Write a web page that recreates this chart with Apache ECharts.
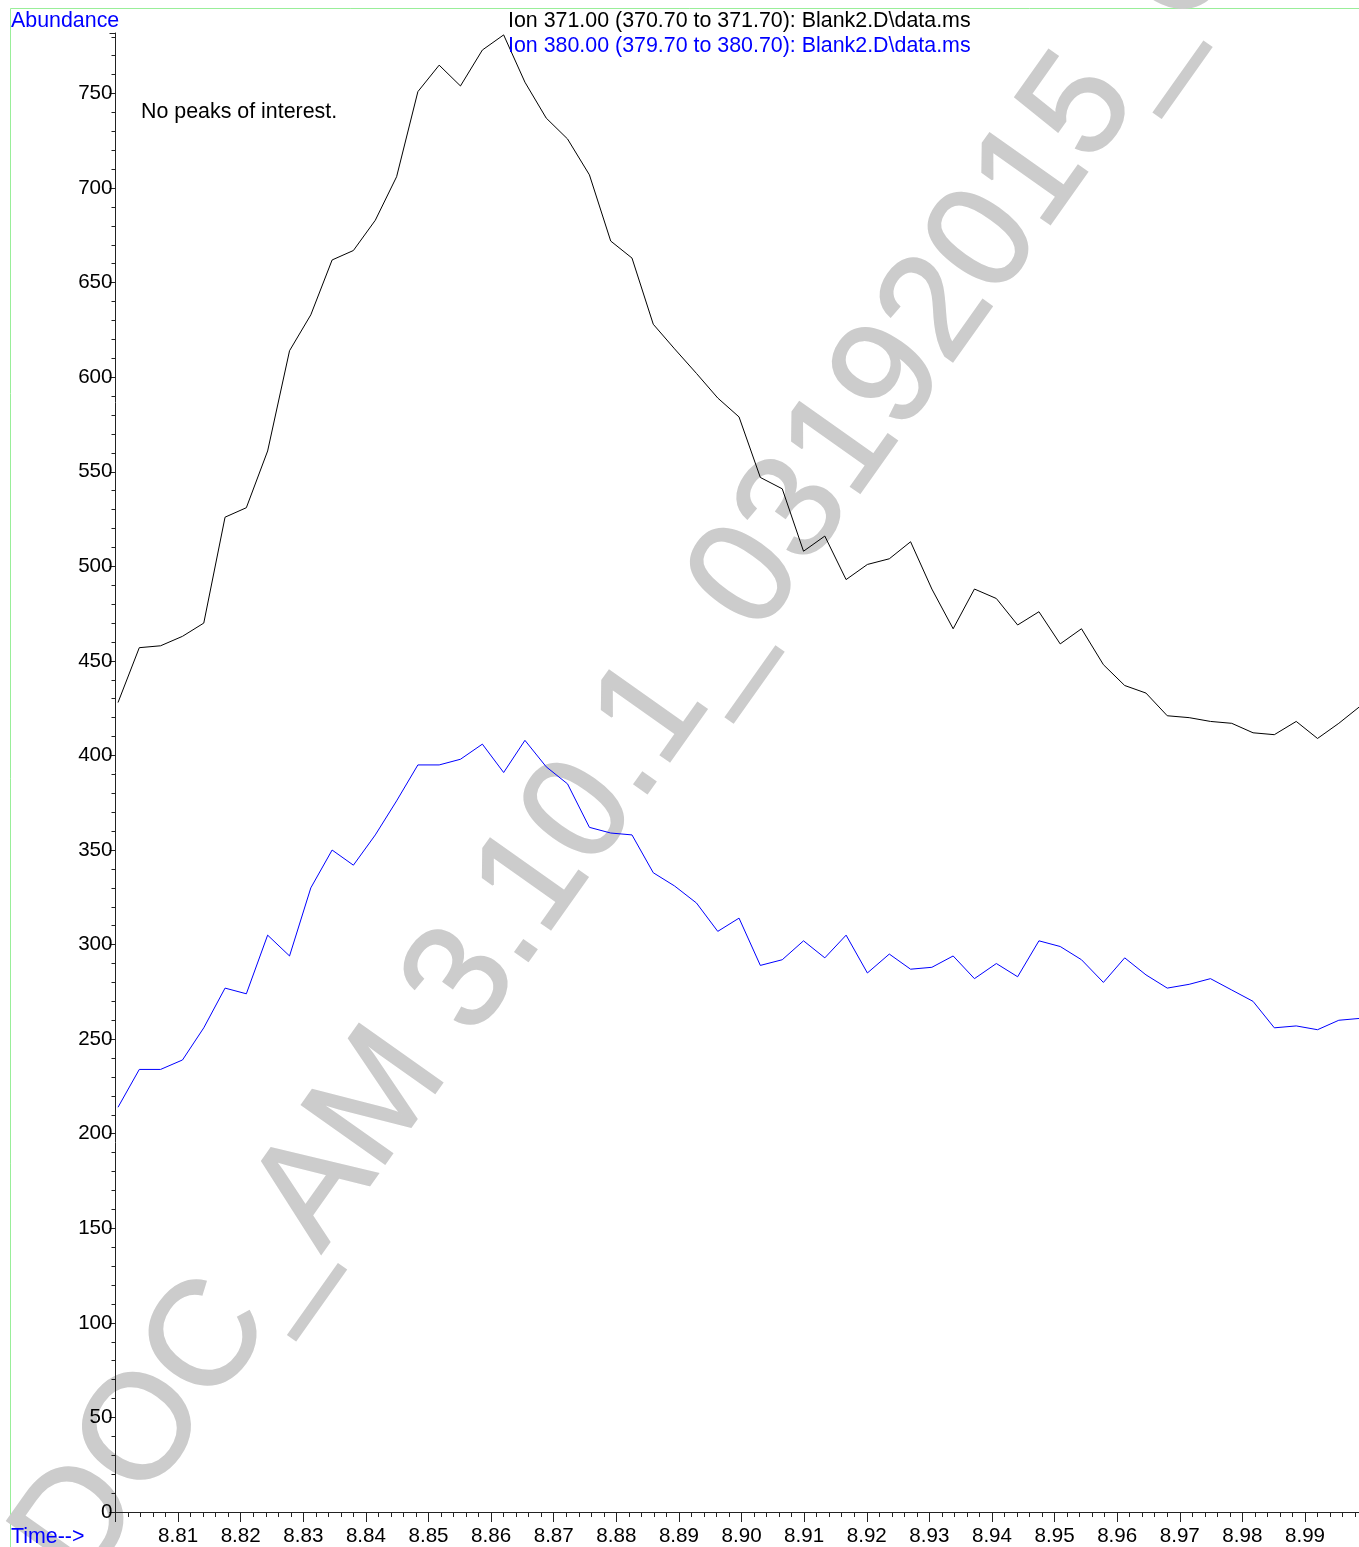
<!DOCTYPE html>
<html>
<head>
<meta charset="utf-8">
<script src="https://cdn.jsdelivr.net/npm/echarts@6/dist/echarts.min.js"></script>
<style>
html,body{margin:0;padding:0;background:#fff;overflow:hidden;width:1359px;height:1547px;}
#chart{width:1368px;height:1547px;}
</style>
</head>
<body>
<div id="chart"></div>
<script>
// Retention times (min)
const times = [8.8004, 8.8038, 8.8072, 8.8107, 8.8141, 8.8175, 8.8209, 8.8243, 8.8278, 8.8312,
  8.8346, 8.8380, 8.8415, 8.8449, 8.8483, 8.8517, 8.8551, 8.8586, 8.8620, 8.8654,
  8.8688, 8.8722, 8.8757, 8.8791, 8.8825, 8.8859, 8.8893, 8.8928, 8.8962, 8.8996,
  8.9030, 8.9065, 8.9099, 8.9133, 8.9167, 8.9201, 8.9236, 8.9270, 8.9304, 8.9338,
  8.9372, 8.9407, 8.9441, 8.9475, 8.9509, 8.9543, 8.9578, 8.9612, 8.9646, 8.9680,
  8.9715, 8.9749, 8.9783, 8.9817, 8.9851, 8.9886, 8.9920, 8.9954, 8.9988];

// Ion 371.00 abundance
const ion371 = [428, 457, 458, 463, 470, 526, 531, 561, 614, 633,
  662, 667, 683, 706, 751, 765, 754, 773, 781, 756,
  737, 726, 707, 672, 663, 628, 615, 602, 589, 579,
  547, 541, 508, 516, 493, 501, 504, 513, 488, 467,
  488, 483, 469, 476, 459, 467, 448, 437, 433, 421,
  420, 418, 417, 412, 411, 418, 409, 417, 426];

// Ion 380.00 abundance
const ion380 = [214, 234, 234, 239, 256, 277, 274, 305, 294, 330,
  350, 342, 358, 376, 395, 395, 398, 406, 391, 408,
  394, 385, 362, 359, 358, 338, 331, 322, 307, 314,
  289, 292, 302, 293, 305, 285, 295, 287, 288, 294,
  282, 290, 283, 302, 299, 292, 280, 293, 284, 277,
  279, 282, 276, 270, 256, 257, 255, 260, 261];

const seriesNames = ['Ion 371.00 (370.70 to 371.70): Blank2.D\\data.ms',
                     'Ion 380.00 (379.70 to 380.70): Blank2.D\\data.ms'];
const yAxisTitle = 'Abundance';
const xAxisTitle = 'Time-->';
const note = 'No peaks of interest.';
const watermark = 'DOC_AM 3.10.1_03192015_C';

const FONT = '"Liberation Sans", Arial, Helvetica, sans-serif';
const TXT = '21.4px ' + FONT;
const chart = echarts.init(document.getElementById('chart'), null, {renderer: 'canvas'});

const wmAngle = 54.7 * Math.PI / 180;

const option = {
  animation: false,
  backgroundColor: '#ffffff',
  textStyle: {fontFamily: FONT},
  grid: {left: 115.5, right: 0.4, top: 33, bottom: 34, containLabel: false},
  xAxis: {
    type: 'value', min: 8.80, max: 9.00, interval: 0.01, z: 2,
    axisLine: {show: true, lineStyle: {color: '#222', width: 1}},
    axisTick: {show: true, length: 10, lineStyle: {color: '#222'}},
    minorTick: {show: true, splitNumber: 5, length: 5, lineStyle: {color: '#222'}},
    splitLine: {show: false},
    axisLabel: {
      showMinLabel: false, showMaxLabel: false,
      fontSize: 20.6, color: '#000', fontFamily: FONT, margin: 14,
      formatter: v => v.toFixed(2)
    }
  },
  yAxis: {
    type: 'value', min: 0, max: 782, interval: 50, z: 2,
    axisLine: {show: true, lineStyle: {color: '#222', width: 1}},
    axisTick: {show: true, length: 6, lineStyle: {color: '#222'}},
    minorTick: {show: true, splitNumber: 5, length: 4, lineStyle: {color: '#222'}},
    splitLine: {show: false},
    axisLabel: {showMaxLabel: false, fontSize: 20.6, color: '#000', fontFamily: FONT, margin: 3,
                padding: [4, 0, 0, 0]}
  },
  graphic: [
    {type: 'rect', z: 0, silent: true,
     shape: {x: 10.5, y: 8.5, width: 1400, height: 1600},
     style: {fill: 'none', stroke: '#99ee99', lineWidth: 1}},
    {type: 'text', z: 1, silent: true, x: 50, y: 1566, rotation: wmAngle,
     style: {text: watermark, fill: '#cccccc', stroke: '#cccccc', lineWidth: 2,
             font: '148px ' + FONT, align: 'left', verticalAlign: 'middle'}},
    {type: 'text', z: 5, x: 11, y: 21,
     style: {text: yAxisTitle, fill: '#0000ff', font: TXT, align: 'left', verticalAlign: 'middle'}},
    {type: 'text', z: 5, x: 11, y: 1537,
     style: {text: xAxisTitle, fill: '#0000ff', font: TXT, align: 'left', verticalAlign: 'middle'}},
    {type: 'text', z: 5, x: 141, y: 112,
     style: {text: note, fill: '#000', font: TXT, align: 'left', verticalAlign: 'middle'}},
    {type: 'text', z: 5, x: 508, y: 21,
     style: {text: seriesNames[0], fill: '#000', font: TXT, align: 'left', verticalAlign: 'middle'}},
    {type: 'text', z: 5, x: 508, y: 46,
     style: {text: seriesNames[1], fill: '#0000ff', font: TXT, align: 'left', verticalAlign: 'middle'}}
  ],
  series: [
    {name: seriesNames[0], type: 'line', z: 3, showSymbol: false, symbol: 'none',
     lineStyle: {color: '#000', width: 1}, itemStyle: {color: '#000'},
     data: times.map((t, i) => [t, ion371[i]])},
    {name: seriesNames[1], type: 'line', z: 3, showSymbol: false, symbol: 'none',
     lineStyle: {color: '#0000ff', width: 1}, itemStyle: {color: '#0000ff'},
     data: times.map((t, i) => [t, ion380[i]])}
  ]
};
chart.setOption(option);
</script>
</body>
</html>
